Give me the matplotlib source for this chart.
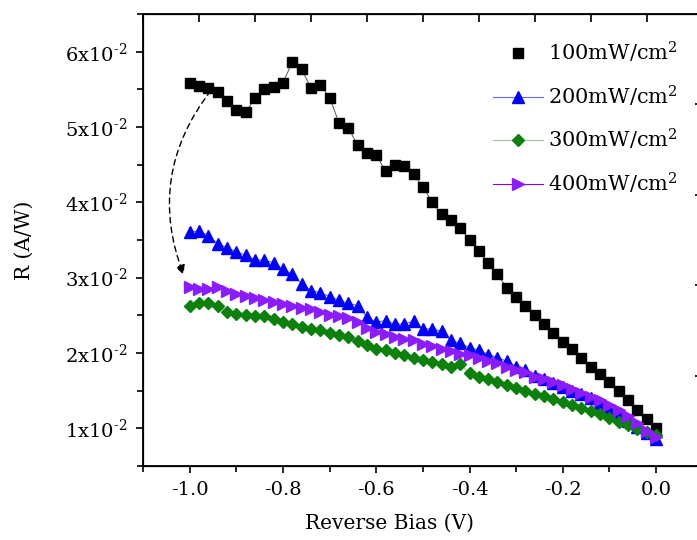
import matplotlib
matplotlib.use("Agg")
import matplotlib.pyplot as plt
import numpy as np
from matplotlib.ticker import MultipleLocator, FixedLocator, FuncFormatter, NullFormatter

plt.rcParams['font.family'] = ['DejaVu Serif']
plt.rcParams['mathtext.fontset'] = 'dejavuserif'
plt.rcParams['axes.unicode_minus'] = False

# bias voltage, -1.0 V .. 0.0 V in 0.02 V steps
bias = np.round(np.arange(-1.0, 0.0001, 0.02), 2)

r_100 = [0.0559, 0.0555, 0.0552, 0.0546, 0.0534, 0.0523, 0.0520, 0.0538, 0.0550, 0.0553,
         0.0559, 0.0586, 0.0577, 0.0552, 0.0556, 0.0539, 0.0506, 0.0499, 0.0476, 0.0466,
         0.0463, 0.0441, 0.0449, 0.0448, 0.0437, 0.0421, 0.0400, 0.0384, 0.0376, 0.0366,
         0.0350, 0.0335, 0.0320, 0.0305, 0.0286, 0.0274, 0.0262, 0.0250, 0.0239, 0.0227,
         0.0215, 0.0205, 0.0194, 0.0182, 0.0172, 0.0161, 0.0150, 0.0137, 0.0124, 0.0112,
         0.0101]
r_200 = [0.0360, 0.0362, 0.0356, 0.0345, 0.0340, 0.0334, 0.0330, 0.0324, 0.0323, 0.0320,
         0.0311, 0.0305, 0.0292, 0.0283, 0.0280, 0.0275, 0.0270, 0.0266, 0.0263, 0.0248,
         0.0241, 0.0243, 0.0238, 0.0239, 0.0242, 0.0232, 0.0232, 0.0229, 0.0217, 0.0213,
         0.0207, 0.0204, 0.0198, 0.0194, 0.0189, 0.0182, 0.0177, 0.0170, 0.0166, 0.0160,
         0.0155, 0.0150, 0.0145, 0.0140, 0.0133, 0.0126, 0.0118, 0.0110, 0.0102, 0.0094,
         0.0086]
r_300 = [0.0263, 0.0267, 0.0267, 0.0262, 0.0255, 0.0252, 0.0250, 0.0249, 0.0249, 0.0245,
         0.0241, 0.0238, 0.0235, 0.0232, 0.0230, 0.0227, 0.0224, 0.0221, 0.0216, 0.0210,
         0.0206, 0.0204, 0.0200, 0.0197, 0.0194, 0.0191, 0.0188, 0.0185, 0.0182, 0.0186,
         0.0173, 0.0168, 0.0165, 0.0161, 0.0157, 0.0154, 0.0150, 0.0146, 0.0143, 0.0139,
         0.0135, 0.0131, 0.0127, 0.0123, 0.0119, 0.0114, 0.0109, 0.0104, 0.0099, 0.0095,
         0.0091]
r_400 = [0.0288, 0.0285, 0.0285, 0.0288, 0.0282, 0.0279, 0.0276, 0.0273, 0.0270, 0.0268,
         0.0265, 0.0262, 0.0260, 0.0258, 0.0254, 0.0251, 0.0249, 0.0247, 0.0241, 0.0233,
         0.0228, 0.0225, 0.0221, 0.0219, 0.0217, 0.0212, 0.0209, 0.0206, 0.0203, 0.0199,
         0.0197, 0.0194, 0.0190, 0.0187, 0.0182, 0.0178, 0.0175, 0.0168, 0.0165, 0.0161,
         0.0157, 0.0152, 0.0147, 0.0142, 0.0137, 0.0131, 0.0124, 0.0116, 0.0107, 0.0097,
         0.0088]

labels = ["100mW/cm$^2$", "200mW/cm$^2$", "300mW/cm$^2$", "400mW/cm$^2$"]
ytick_vals = [0.01, 0.02, 0.03, 0.04, 0.05, 0.06]

fig = plt.figure(figsize=(6.97, 5.40), dpi=100)
ax = fig.add_axes([0.2052, 0.137, 0.803, 0.837])

# black curve: thin connecting line, legend shows only the marker
ax.plot(bias, r_100, color='#555555', lw=0.7, zorder=2)
ax.plot(bias, r_100, ls='none', marker='s', ms=7.5, color='black', label=labels[0], zorder=3)
ax.plot(bias, r_200, color='#6666dd', lw=0.8, marker='^', ms=9, mfc='#0000ff', mec='#0000ff',
        label=labels[1], zorder=3)
ax.plot(bias, r_300, color='#99cc99', lw=0.8, marker='D', ms=6.5, mfc='#0b800b', mec='#0b800b',
        label=labels[2], zorder=4)
ax.plot(bias, r_400, color='#8000ff', lw=0.8, marker='>', ms=9, mfc='#8a1cff', mec='#8a1cff',
        label=labels[3], zorder=5)

# dashed curved arrow from the 100 curve down to the 400 curve
ax.annotate("", xy=(-1.013, 0.0304), xytext=(-0.955, 0.0548),
            arrowprops=dict(arrowstyle='-|>', ls=(0, (4, 3)), lw=1.0, color='black',
                            connectionstyle='arc3,rad=0.28', mutation_scale=14,
                            shrinkA=0, shrinkB=0))

ax.set_xlim(-1.1, 0.1)
ax.set_ylim(0.005, 0.065)
ax.xaxis.set_major_locator(MultipleLocator(0.2))
ax.xaxis.set_minor_locator(MultipleLocator(0.1))
ax.xaxis.set_major_formatter(FuncFormatter(lambda v, p: "%.1f" % v))
ax.yaxis.set_major_locator(FixedLocator(ytick_vals))
ax.yaxis.set_minor_locator(MultipleLocator(0.005))
ax.yaxis.set_major_formatter(FuncFormatter(
    lambda v, p: r"%dx10$^{\text{-2}}$" % round(v * 100)))
ax.tick_params(which='major', direction='out', length=5, width=1.2, labelsize=14, pad=6)
ax.tick_params(which='minor', direction='out', length=4, width=1.2)
for s in ax.spines.values():
    s.set_linewidth(1.3)

# inner ticks on the top and right frame
top = ax.twiny()
top.set_xlim(0, 10)
top.xaxis.set_major_locator(MultipleLocator(1))
top.xaxis.set_major_formatter(NullFormatter())
top.tick_params(axis='x', direction='in', length=6, width=1.2)
right = ax.twinx()
right.set_ylim(0, 5)
right.yaxis.set_major_locator(MultipleLocator(1))
right.yaxis.set_major_formatter(NullFormatter())
right.tick_params(axis='y', direction='in', length=6, width=1.2)

ax.set_xlabel("Reverse Bias (V)", fontsize=14.5)
ax.set_ylabel("R (A/W)", fontsize=14.5)
ax.xaxis.set_label_coords(0.44, -0.105)
ax.yaxis.set_label_coords(-0.195, 0.5)

ax.legend(loc='upper left', bbox_to_anchor=(0.6, 0.975), frameon=False, fontsize=15,
          handlelength=2.4, handletextpad=0.2, labelspacing=0.88, borderaxespad=0.3)

fig.savefig("out.png", dpi=100)
